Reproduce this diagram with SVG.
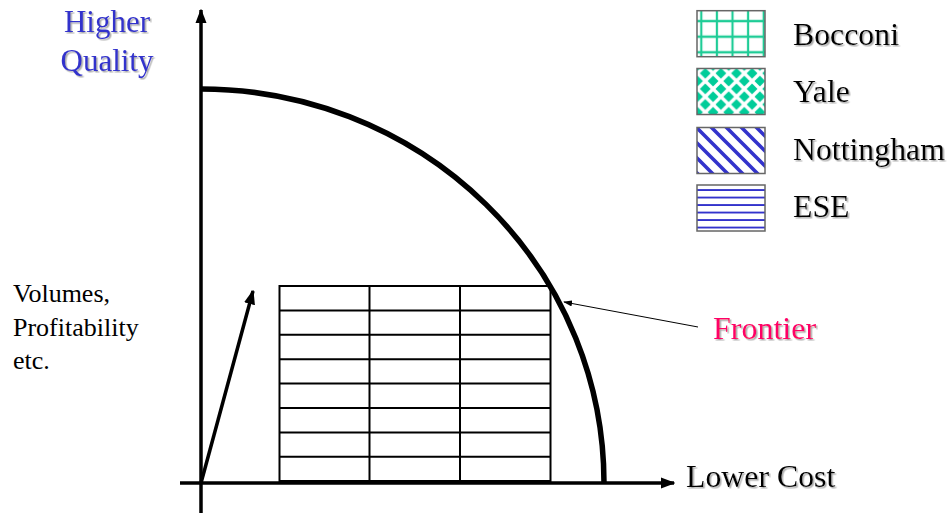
<svg xmlns="http://www.w3.org/2000/svg" width="951" height="513" viewBox="0 0 951 513">
<style>
  text { font-family: "Liberation Serif", "Times New Roman", Times, serif; }
  .big { font-size: 31px; }
  .leg { font-size: 31.8px; }
  .small { font-size: 26px; }
  .sh { filter: url(#shadow); }
  .axis { stroke: #000; stroke-width: 3.5; fill: none; }
  .grid { stroke: #000; stroke-width: 2; fill: none; }
  .lbox { stroke: #666; stroke-width: 1.5; }
</style>
<defs>
  <filter id="shadow" x="-10%" y="-20%" width="130%" height="150%">
    <feDropShadow dx="1.5" dy="1.5" stdDeviation="0.6" flood-color="#999" flood-opacity="0.8"/>
  </filter>
  <marker id="axhead" viewBox="0 0 10 10" refX="9" refY="5" markerWidth="4.2" markerHeight="3.2" orient="auto" markerUnits="strokeWidth" preserveAspectRatio="none">
    <path d="M0,0 L10,5 L0,10 Z" fill="#000"/>
  </marker>
  <marker id="thinhead" viewBox="0 0 10 10" refX="9" refY="5" markerWidth="9" markerHeight="6" orient="auto" markerUnits="strokeWidth" preserveAspectRatio="none">
    <path d="M0,0 L10,5 L0,10 Z" fill="#000"/>
  </marker>
  <pattern id="pGrid" patternUnits="userSpaceOnUse" x="693.5" y="13.3" width="15.6" height="15.6">
    <rect width="15.6" height="15.6" fill="#fff"/>
    <path d="M7.8,0 V15.6 M0,7.8 H15.6" stroke="#1ECC96" stroke-width="2.2"/>
  </pattern>
  <pattern id="pDiamond" patternUnits="userSpaceOnUse" x="697.5" y="65.5" width="15.6" height="15.6">
    <rect width="15.6" height="15.6" fill="#fff"/>
    <path d="M7.8,2.4 L13.2,7.8 L7.8,13.2 L2.4,7.8 Z M0,-5.4 L5.4,0 L0,5.4 L-5.4,0 Z M15.6,-5.4 L21,0 L15.6,5.4 L10.2,0 Z M0,10.2 L5.4,15.6 L0,21 L-5.4,15.6 Z M15.6,10.2 L21,15.6 L15.6,21 L10.2,15.6 Z" fill="#00CC99"/>
  </pattern>
  <pattern id="pDiag" patternUnits="userSpaceOnUse" x="697" y="128" width="15" height="15">
    <rect width="15" height="15" fill="#fff"/>
    <path d="M-2,-2 L17,17 M13,-2 L17,2 M-2,13 L2,17" stroke="#3333CC" stroke-width="3.6"/>
  </pattern>
  <pattern id="pHoriz" patternUnits="userSpaceOnUse" x="697" y="186.3" width="68" height="7.5">
    <rect width="68" height="7.5" fill="#fff"/>
    <path d="M0,3.75 H68" stroke="#3333CC" stroke-width="2"/>
  </pattern>
</defs>

<g id="connectors">
  <line id="y-axis" class="axis" x1="201" y1="513" x2="201" y2="10" marker-end="url(#axhead)"/>
  <line id="x-axis" class="axis" x1="180" y1="483" x2="674" y2="483" marker-end="url(#axhead)"/>
  <path id="frontier-curve" d="M201,89 A403,394 0 0 1 604,483" fill="none" stroke="#000" stroke-width="5.5"/>
  <line id="growth-arrow" x1="201" y1="483" x2="253" y2="291" stroke="#000" stroke-width="3.5" marker-end="url(#axhead)"/>
  <line id="frontier-pointer" x1="698" y1="327" x2="564" y2="302" stroke="#000" stroke-width="1" marker-end="url(#thinhead)"/>
</g>

<g id="table">
  <rect x="279.5" y="286" width="271" height="195" class="grid"/>
  <path class="grid" d="M369.5,286 V481 M460,286 V481 M279.5,310.5 H550.5 M279.5,334.8 H550.5 M279.5,359.2 H550.5 M279.5,383.6 H550.5 M279.5,408 H550.5 M279.5,432.4 H550.5 M279.5,456.7 H550.5"/>
  <line x1="279.5" y1="481.5" x2="550.5" y2="481.5" stroke="#000" stroke-width="3"/>
</g>

<g id="label-quality">
  <text class="big sh" x="107" y="32" text-anchor="middle" fill="#3333CC">Higher</text>
  <text class="big sh" x="107" y="71" text-anchor="middle" fill="#3333CC">Quality</text>
</g>

<g id="label-volumes">
  <text class="small" x="13" y="302" fill="#000">Volumes,</text>
  <text class="small" x="13" y="336" fill="#000">Profitability</text>
  <text class="small" x="13" y="369" fill="#000">etc.</text>
</g>

<g id="label-frontier">
  <text class="big sh" x="713" y="339" fill="#FF0066" style="font-size:32px">Frontier</text>
</g>

<g id="label-cost">
  <text class="big sh" x="686" y="487" fill="#000" style="font-size:31.8px">Lower Cost</text>
</g>

<g id="legend-bocconi">
  <rect class="lbox" x="697" y="10.7" width="68" height="46" fill="url(#pGrid)"/>
  <text class="leg sh" x="793" y="45" fill="#000">Bocconi</text>
</g>
<g id="legend-yale">
  <rect class="lbox" x="697" y="68.5" width="68" height="46" fill="url(#pDiamond)"/>
  <text class="leg sh" x="793" y="102" fill="#000">Yale</text>
</g>
<g id="legend-nottingham">
  <rect class="lbox" x="697" y="127.5" width="68" height="46" fill="url(#pDiag)"/>
  <text class="leg sh" x="793" y="159.5" fill="#000">Nottingham</text>
</g>
<g id="legend-ese">
  <rect class="lbox" x="697" y="185" width="68" height="46" fill="url(#pHoriz)"/>
  <text class="leg sh" x="793" y="217" fill="#000">ESE</text>
</g>
</svg>
